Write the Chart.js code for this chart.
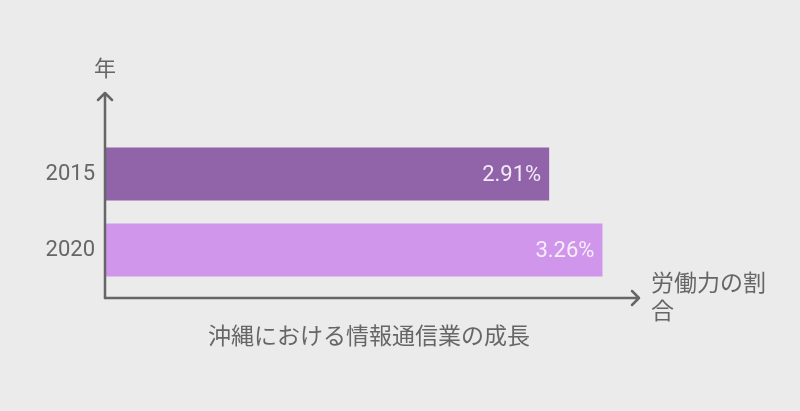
<!DOCTYPE html>
<html>
<head>
<meta charset="utf-8">
<script src="https://cdn.jsdelivr.net/npm/chart.js@4.4.1/dist/chart.umd.min.js"></script>
<style>
  html, body { margin: 0; padding: 0; background: #ebebeb; }
  #wrap { width: 800px; height: 411px; }
</style>
</head>
<body>
<div id="wrap"><canvas id="chart"></canvas></div>
<script>
// data
const years = ['2015', '2020'];
const shares = [2.91, 3.26];
const barColors = ['#9163a9', '#cf96eb'];
const labelColors = ['#f3eaf7', '#f6eefb'];
const xTitle = ['労働力の割', '合'];
const yTitle = '年';
const caption = '沖縄における情報通信業の成長';

const FONT = "Roboto, 'Noto Sans CJK JP', sans-serif";
const GREY = '#666666';

// axes with arrows + titles + value labels
const decorations = {
    id: 'decorations',
    afterDatasetsDraw: (chart) => {
        const { ctx, chartArea } = chart;
        const x0 = chartArea.left - 1;
        const yBase = chartArea.bottom + 10;
        const yTop = 93;
        const xEnd = chartArea.right;

        ctx.save();
        ctx.strokeStyle = GREY;
        ctx.lineWidth = 2.5;
        ctx.lineCap = 'round';
        ctx.lineJoin = 'round';

        ctx.beginPath();
        ctx.moveTo(x0, yBase);
        ctx.lineTo(x0, yTop);
        ctx.moveTo(x0 - 7, yTop + 7);
        ctx.lineTo(x0, yTop);
        ctx.lineTo(x0 + 7, yTop + 7);
        ctx.stroke();

        ctx.beginPath();
        ctx.moveTo(x0, yBase);
        ctx.lineTo(xEnd, yBase);
        ctx.moveTo(xEnd - 7, yBase - 7);
        ctx.lineTo(xEnd, yBase);
        ctx.lineTo(xEnd - 7, yBase + 7);
        ctx.stroke();

        // value labels inside bar ends
        const meta = chart.getDatasetMeta(0);
        ctx.font = '22px ' + FONT;
        ctx.textAlign = 'right';
        ctx.textBaseline = 'middle';
        meta.data.forEach((bar, i) => {
            ctx.fillStyle = labelColors[i];
            ctx.fillText(shares[i].toFixed(2) + '%', bar.x - 8, bar.y + 1);
        });

        // titles
        ctx.fillStyle = GREY;
        ctx.font = '22px ' + FONT;
        ctx.textAlign = 'center';
        ctx.fillText(yTitle, x0, 70);

        ctx.textAlign = 'left';
        ctx.font = '23px ' + FONT;
        ctx.fillText(xTitle[0], xEnd + 12, 285);
        ctx.fillText(xTitle[1], xEnd + 12, 313);

        ctx.textAlign = 'center';
        ctx.fillText(caption, 369, 338);
        ctx.restore();
    }
};

new Chart(document.getElementById('chart'), {
    type: 'bar',
    plugins: [decorations],
    data: {
        labels: years,
        datasets: [{
            data: shares,
            backgroundColor: barColors,
            borderWidth: 0,
            categoryPercentage: 1,
            barPercentage: 0.7
        }]
    },
    options: {
        indexAxis: 'y',
        responsive: true,
        maintainAspectRatio: false,
        animation: false,
        layout: { padding: { top: 136, bottom: 123, left: 0, right: 161 } },
        plugins: {
            legend: { display: false },
            tooltip: { enabled: false }
        },
        scales: {
            x: { display: false, min: 0, max: 3.5 },
            y: {
                grid: { display: false },
                border: { display: false },
                afterFit: (scale) => { scale.width = 106; },
                ticks: {
                    color: GREY,
                    padding: 3,
                    font: { family: FONT, size: 22 }
                }
            }
        }
    }
});
</script>
</body>
</html>
